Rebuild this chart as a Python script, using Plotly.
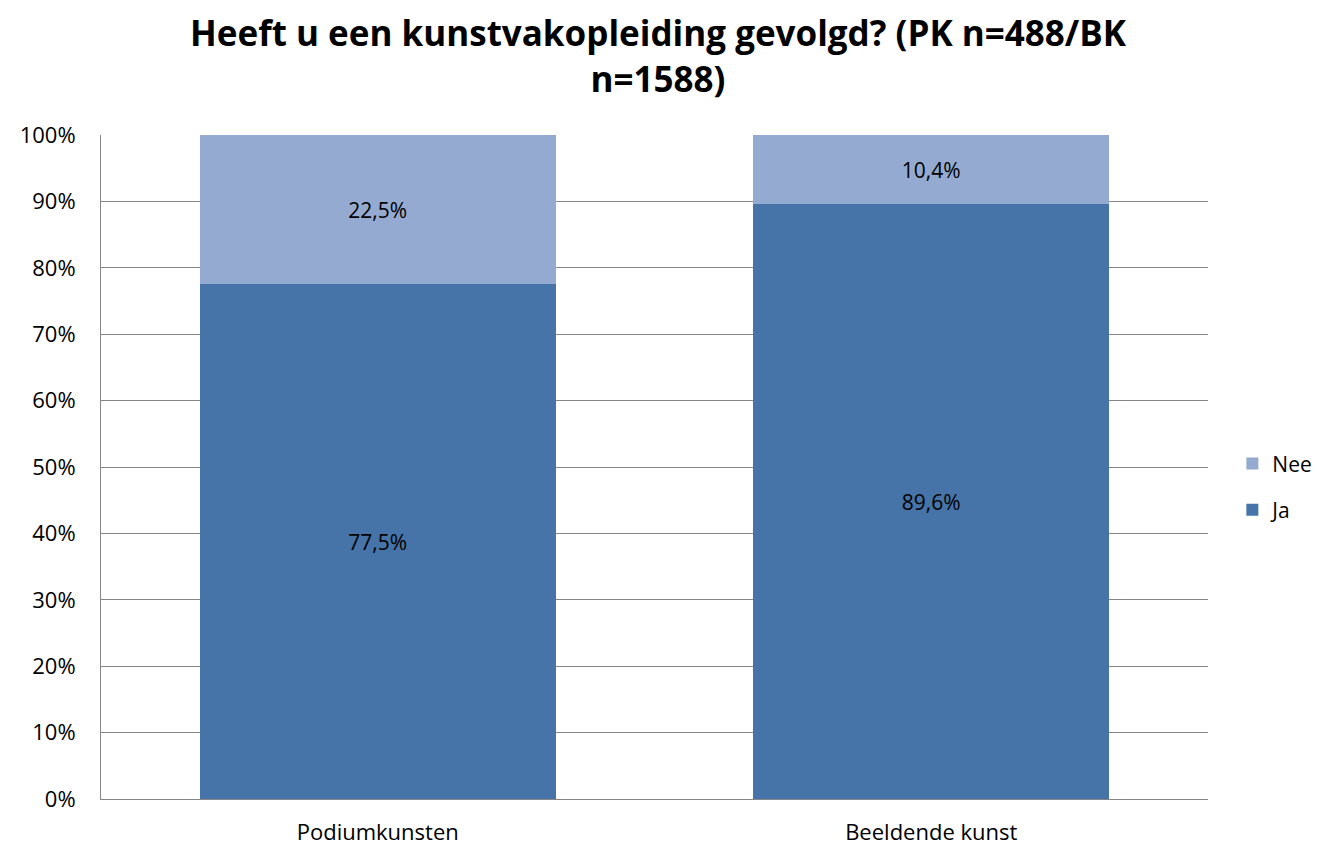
import plotly.graph_objects as go

categories = ["Podiumkunsten", "Beeldende kunst"]
ja_values = [77.5, 89.6]
nee_values = [22.5, 10.4]
ja_labels = ["77,5%", "89,6%"]
nee_labels = ["22,5%", "10,4%"]
tick_vals = [0, 10, 20, 30, 40, 50, 60, 70, 80, 90, 100]
tick_text = ["0%", "10%", "20%", "30%", "40%", "50%", "60%", "70%", "80%", "90%", "100%"]
title_text = "<b>Heeft u een kunstvakopleiding gevolgd? (PK n=488/BK<br>n=1588)</b>"

font_family = "Open Sans, Carlito, Calibri, sans-serif"
fs = 22

fig = go.Figure()
fig.add_trace(go.Bar(
    name="Ja", x=categories, y=ja_values, text=ja_labels,
    legendgroup="ja", legendrank=2,
    marker=dict(color="#4674A8", line=dict(width=0)),
    textposition="inside", insidetextanchor="middle",
    textfont=dict(color="black", size=21, family=font_family),
    hoverinfo="skip",
))
fig.add_trace(go.Bar(
    name="Nee", x=categories, y=nee_values, text=nee_labels,
    legendgroup="nee", legendrank=1,
    marker=dict(color="#95AAD0", line=dict(width=0)),
    textposition="inside", insidetextanchor="middle",
    textfont=dict(color="black", size=21, family=font_family),
    hoverinfo="skip",
))

fig.update_layout(
    barmode="stack",
    bargap=0.357,
    width=1321, height=846,
    margin=dict(l=93, r=113, t=127, b=55),
    paper_bgcolor="white", plot_bgcolor="white",
    font=dict(family=font_family, size=fs, color="black"),
    uniformtext=dict(mode=False),
    legend=dict(
        traceorder="grouped",
        x=1.022, xanchor="left", y=0.47, yanchor="middle",
        font=dict(size=21, family=font_family),
        itemwidth=30, tracegroupgap=16,
    ),
    xaxis=dict(
        showline=True, linecolor="#868686", linewidth=1,
        ticks="", tickfont=dict(size=fs), showgrid=False,
        ticklabelstandoff=14, automargin=False,
    ),
    yaxis=dict(
        range=[0, 100], tickvals=tick_vals, ticktext=tick_text,
        showgrid=True, gridcolor="#868686", gridwidth=1,
        showline=True, linecolor="#868686", linewidth=1,
        ticks="", ticklen=0, tickfont=dict(size=fs),
        zeroline=False, ticklabelstandoff=20, automargin=False,
    ),
    annotations=[dict(
        text=title_text, xref="paper", yref="paper",
        x=0.504, y=1.12, xanchor="center", yanchor="middle",
        showarrow=False, align="center", borderpad=0,
        font=dict(size=35, family=font_family, color="black"),
    )],
)

fig.write_html("out.html")
